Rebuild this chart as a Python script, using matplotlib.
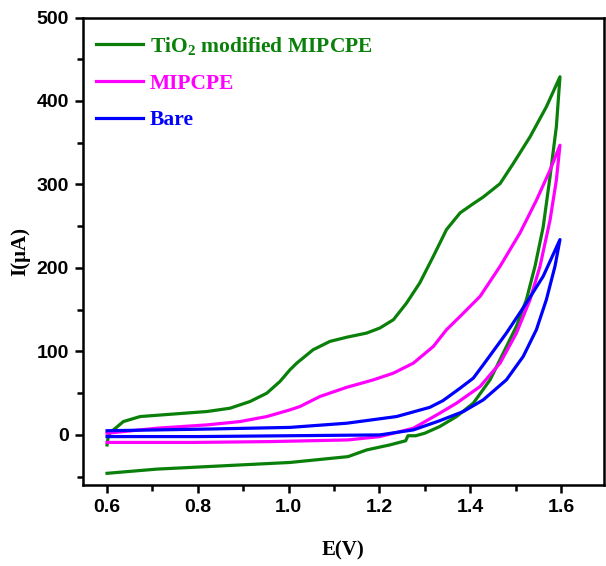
import numpy as np
import matplotlib
matplotlib.use("Agg")
import matplotlib.pyplot as plt
from matplotlib.ticker import MultipleLocator, FormatStrFormatter

# ---- data (E in V, I in uA), forward scan then return scan
tio2_E = [0.600, 0.603, 0.614, 0.636, 0.673, 0.746, 0.820, 0.871, 0.915, 0.952, 0.981,
          1.003, 1.018, 1.054, 1.091, 1.128, 1.172, 1.201, 1.231, 1.260, 1.289, 1.319,
          1.348, 1.378, 1.407, 1.429, 1.466, 1.495, 1.532, 1.568, 1.598,
          1.590, 1.576, 1.561, 1.543, 1.524, 1.502, 1.473, 1.444, 1.407, 1.370, 1.333,
          1.300, 1.280, 1.263, 1.258, 1.223, 1.172, 1.131, 1.003, 0.856, 0.709, 0.600]
tio2_I = [-12, 0, 6, 16, 22, 25, 28, 32, 40, 50, 64,
          78, 86, 102, 112, 117, 122, 128, 138, 158, 182, 214,
          246, 266, 277, 285, 301, 325, 357, 393, 429,
          369, 309, 249, 202, 162, 130, 98, 66, 38, 22, 10,
          2, -1, -1, -7, -12, -18, -26, -33, -37, -41, -46]

mip_E = [0.600, 0.709, 0.820, 0.893, 0.952, 1.003, 1.025, 1.069, 1.128, 1.187, 1.231,
         1.275, 1.319, 1.348, 1.378, 1.422, 1.466, 1.510, 1.546, 1.576, 1.598,
         1.590, 1.576, 1.554, 1.532, 1.502, 1.466, 1.422, 1.370, 1.333, 1.275, 1.201,
         1.131, 0.960, 0.790, 0.600]
mip_I = [2, 8, 12, 16, 22, 30, 34, 46, 57, 66, 74,
         86, 106, 126, 142, 166, 202, 242, 281, 317, 347,
         305, 257, 202, 162, 122, 86, 58, 38, 26, 8, -2,
         -6, -8, -9, -9]

bare_E = [0.600, 0.820, 1.003, 1.128, 1.238, 1.311, 1.340, 1.378, 1.407, 1.429, 1.480,
          1.524, 1.561, 1.598,
          1.587, 1.568, 1.546, 1.517, 1.480, 1.429, 1.385, 1.333, 1.275, 1.201, 1.000,
          0.800, 0.600]
bare_I = [5, 7, 9, 14, 22, 33, 41, 56, 68, 84, 122,
          158, 190, 234,
          202, 162, 126, 94, 66, 42, 28, 17, 6, 0, -1,
          -2, -2]

GREEN = "#0a800a"; MAGENTA = "#ff00ff"; BLUE = "#0000ff"

plt.rcParams.update({
    "mathtext.fontset": "custom",
    "mathtext.rm": "Liberation Serif:bold",
    "mathtext.bf": "Liberation Serif:bold",
    "mathtext.default": "bf",
})

fig = plt.figure(figsize=(6.06, 5.66), dpi=100)
ax = fig.add_axes([83/606, 1-485/566, (604-83)/606, (485-17.5)/566])

ax.plot(tio2_E, tio2_I, color=GREEN, lw=2.3, label="TiO$_2$ modified MIPCPE")
ax.plot(mip_E, mip_I, color=MAGENTA, lw=2.3, label="MIPCPE")
ax.plot(bare_E, bare_I, color=BLUE, lw=2.3, label="Bare")

ax.set_xlim(0.547, 1.695)
ax.set_ylim(-60, 500)
ax.xaxis.set_major_locator(MultipleLocator(0.2))
ax.xaxis.set_minor_locator(MultipleLocator(0.1))
ax.yaxis.set_major_locator(MultipleLocator(100))
ax.yaxis.set_minor_locator(MultipleLocator(50))
ax.xaxis.set_major_formatter(FormatStrFormatter("%.1f"))

for s in ax.spines.values():
    s.set_linewidth(1.8)
ax.tick_params(which="both", direction="out", width=1.8, top=False, right=False)
ax.tick_params(which="major", length=6, pad=4)
ax.tick_params(which="minor", length=4)

for lab in ax.get_xticklabels() + ax.get_yticklabels():
    lab.set_fontfamily(["Liberation Sans Narrow", "Liberation Sans"])
    lab.set_fontweight("bold")
    lab.set_fontsize(14)

serif = ["Liberation Serif", "DejaVu Serif"]
ax.set_xlabel("E(V)", family=serif, weight="bold", fontsize=15, labelpad=18)
ax.set_ylabel("I(\u03bcA)", family=serif, weight="bold", fontsize=15, labelpad=5)

leg = ax.legend(loc="upper left", bbox_to_anchor=(85/606, 1-24/566),
                bbox_transform=fig.transFigure, frameon=False,
                handlelength=2.2, handletextpad=0.3, labelspacing=0.78,
                borderpad=0, labelcolor="linecolor",
                prop=dict(family=serif, weight="bold", size=15.5))

fig.savefig("out.png", dpi=100)
